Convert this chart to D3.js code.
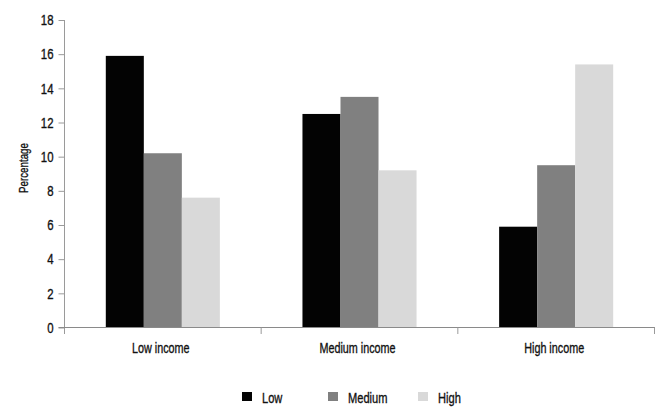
<!DOCTYPE html>
<html>
<head>
<meta charset="utf-8">
<script src="https://cdn.jsdelivr.net/npm/d3@7/dist/d3.min.js"></script>
<style>
  html, body { margin: 0; padding: 0; background: #fff; }
  svg { display: block; }
  text { font-family: "Liberation Sans", Arial, sans-serif; fill: #111; stroke: #111; stroke-width: 0.35px; }
</style>
</head>
<body>
<svg id="chart" width="664" height="413"></svg>
<script>
// ---- data ----
const categories = ["Low income", "Medium income", "High income"];
const seriesNames = ["Low", "Medium", "High"];
const lowValues = [15.9, 12.5, 5.9];
const mediumValues = [10.2, 13.5, 9.5];
const highValues = [7.6, 9.2, 15.4];
const yTicks = [0, 2, 4, 6, 8, 10, 12, 14, 16, 18];
const seriesColors = ["#030303", "#808080", "#d9d9d9"];

const seriesValues = [lowValues, mediumValues, highValues];
const rows = categories.map((c, i) => ({
  category: c,
  values: seriesNames.map((s, j) => ({ series: s, value: seriesValues[j][i], color: seriesColors[j] }))
}));

// ---- layout ----
const svg = d3.select("#chart");
const xLeft = 64.5, xRight = 654.5, yTop = 20, yZero = 327.5;
const SX = 0.74; // horizontal condensing of text

const x0 = d3.scaleBand().domain(categories).range([xLeft, xRight])
  .paddingInner(0.42).paddingOuter(0.21);
const x1 = d3.scaleBand().domain(seriesNames).range([0, x0.bandwidth()]).padding(0);
const y = d3.scaleLinear().domain([0, 18]).range([yZero, yTop]);

// condensed text helper
function ctext(parent, x, yy, str, size, anchor, sx) {
  const s = sx || SX;
  return parent.append("text")
    .attr("transform", `translate(${x},${yy}) scale(${s},1)`)
    .attr("text-anchor", anchor)
    .style("font-size", size + "px")
    .text(str);
}

// bars
const g = svg.append("g");
g.selectAll("g.grp").data(rows).join("g")
  .attr("class", "grp")
  .attr("transform", d => `translate(${x0(d.category)},0)`)
  .selectAll("rect").data(d => d.values).join("rect")
  .attr("x", d => x1(d.series))
  .attr("width", x1.bandwidth())
  .attr("y", d => y(d.value))
  .attr("height", d => y(0) - y(d.value))
  .attr("fill", d => d.color);

// y axis
const yAxis = d3.axisLeft(y).tickValues(yTicks).tickSize(6).tickFormat("");
const yg = svg.append("g").attr("transform", `translate(${xLeft},0)`).call(yAxis);
yg.select(".domain").remove();
yg.selectAll(".tick line").attr("stroke", "#9a9a9a");
yTicks.forEach(t => ctext(svg, xLeft - 11, y(t) + 5.3, String(t), 15, "end", 0.76));
svg.append("line")
  .attr("x1", xLeft).attr("x2", xLeft)
  .attr("y1", yTop).attr("y2", yZero + 6.5)
  .attr("stroke", "#9a9a9a");

// x axis
svg.append("line")
  .attr("x1", xLeft - 6).attr("x2", xRight + 0.5)
  .attr("y1", yZero).attr("y2", yZero)
  .attr("stroke", "#8a8a8a");
const boundaries = categories.map(c => x0(c) - x0.step() * x0.paddingOuter() + x0.step());
svg.selectAll("line.xt").data(boundaries).join("line")
  .attr("class", "xt")
  .attr("x1", d => d).attr("x2", d => d)
  .attr("y1", yZero).attr("y2", yZero + 6.5)
  .attr("stroke", "#9a9a9a");

categories.forEach(c => ctext(svg, x0(c) + x0.bandwidth() / 2 - 2, 353, c, 15, "middle", 0.72));

// y title
svg.append("text")
  .attr("transform", "translate(28,168) rotate(-90) scale(0.75,1)")
  .attr("text-anchor", "middle")
  .style("font-size", "13px")
  .text("Percentage");

// legend
const legendX = [242, 328, 418];
seriesNames.forEach((d, i) => {
  svg.append("rect")
    .attr("x", legendX[i]).attr("y", 392)
    .attr("width", 10).attr("height", 9)
    .attr("fill", seriesColors[i]);
  ctext(svg, legendX[i] + 20, 403, d, 15, "start", 0.74);
});
</script>
</body>
</html>
